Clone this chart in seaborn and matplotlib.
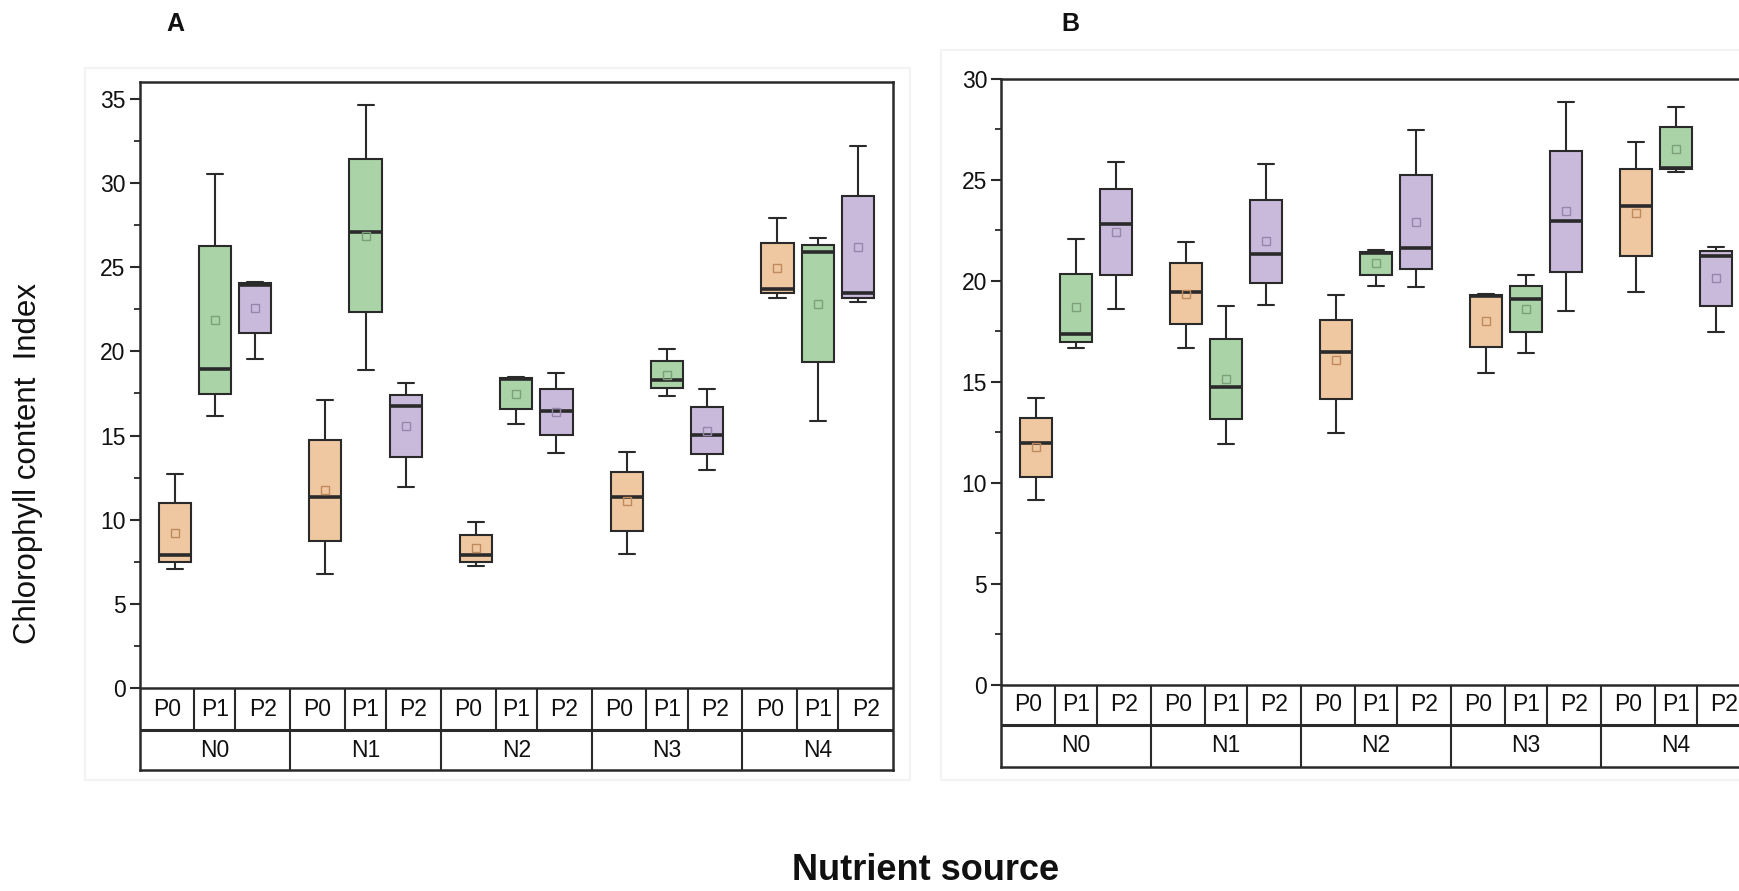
import numpy as np
import pandas as pd
import matplotlib
matplotlib.use("Agg")
import matplotlib.pyplot as plt
from matplotlib.patches import Rectangle
from matplotlib.ticker import FixedLocator
import seaborn as sns

# Nitrogen levels (groups) and phosphorus levels (boxes inside each group)
n_levels = ["N0", "N1", "N2", "N3", "N4"]
p_levels = ["P0", "P1", "P2"]

# Five replicate readings per treatment, one row per nitrogen level (N0..N4)
# Panel A
a_p0 = [[7.07, 7.47, 7.90, 11.01, 12.71],
        [6.77, 8.75, 11.33, 14.73, 17.11],
        [7.27, 7.50, 7.90, 9.09, 9.84],
        [7.94, 9.33, 11.37, 12.85, 14.00],
        [23.15, 23.45, 23.70, 26.46, 27.90]]
a_p1 = [[16.17, 17.47, 18.97, 26.28, 30.53],
        [18.89, 22.36, 27.07, 31.42, 34.65],
        [15.66, 16.55, 18.35, 18.40, 18.45],
        [17.37, 17.80, 18.30, 19.43, 20.12],
        [15.88, 19.35, 25.88, 26.32, 26.71]]
a_p2 = [[19.56, 21.07, 23.95, 24.05, 24.15],
        [11.92, 13.70, 16.75, 17.41, 18.13],
        [13.94, 15.03, 16.46, 17.74, 18.69],
        [12.95, 13.90, 15.03, 16.67, 17.76],
        [22.95, 23.19, 23.49, 29.23, 32.22]]

# Panel B
b_p0 = [[9.16, 10.31, 12.00, 13.23, 14.19],
        [16.70, 17.85, 19.47, 20.87, 21.91],
        [12.49, 14.14, 16.50, 18.07, 19.31],
        [15.43, 16.75, 19.28, 19.31, 19.36],
        [19.47, 21.24, 23.71, 25.53, 26.90]]
b_p1 = [[16.70, 17.00, 17.36, 20.35, 22.06],
        [11.91, 13.15, 14.74, 17.11, 18.76],
        [19.75, 20.30, 21.40, 21.45, 21.53],
        [16.42, 17.46, 19.11, 19.75, 20.30],
        [25.41, 25.54, 25.61, 27.61, 28.60]]
b_p2 = [[18.60, 20.30, 22.82, 24.55, 25.91],
        [18.81, 19.92, 21.32, 24.01, 25.79],
        [19.72, 20.58, 21.62, 25.25, 27.48],
        [18.51, 20.43, 22.99, 26.45, 28.88],
        [17.46, 18.78, 21.25, 21.50, 21.70]]

a_yticks = [0, 5, 10, 15, 20, 25, 30, 35]
b_yticks = [0, 5, 10, 15, 20, 25, 30]

y_label = "Chlorophyll content  Index"
x_label = "Nutrient source"
panel_titles = ["A", "B"]

fill_colors = ["#FCC794", "#A3DBA0", "#C8B4E2"]
mean_colors = ["#C08A5C", "#7E9F7B", "#9686AC"]
edge = "#2a2a2a"
text_color = "#111111"

sns.set_style("white")
plt.rcParams["font.family"] = ["Liberation Sans", "DejaVu Sans"]


def long_frame(p0, p1, p2):
    rows = []
    for p_name, block in zip(p_levels, [p0, p1, p2]):
        for n_name, reps in zip(n_levels, block):
            for v in reps:
                rows.append({"N": n_name, "P": p_name, "value": v})
    return pd.DataFrame(rows)


def draw_panel(ax, df, y_bottom, y_top, p_row, yticks):
    sns.boxplot(data=df, x="N", y="value", hue="P", order=n_levels,
                hue_order=p_levels, palette=fill_colors, width=0.8, gap=0.2,
                whis=(0, 100), linecolor=edge, linewidth=1.5,
                showmeans=True,
                meanprops=dict(marker="s", markersize=5.5,
                               markerfacecolor="none", markeredgewidth=1.0),
                medianprops=dict(linewidth=2.6, color=edge),
                legend=False, ax=ax)

    # tint each mean marker after its box colour
    slot = 0.8 / len(p_levels)
    for line in ax.lines:
        if line.get_marker() == "s":
            x = np.asarray(line.get_xdata(), dtype=float)[0]
            k = int(round((x - round(x)) / slot)) + 1
            line.set_markeredgecolor(mean_colors[k])

    ax.set_xlim(-0.5, len(n_levels) - 0.5)
    ax.set_ylim(y_bottom, y_top)
    ax.set_xlabel("")
    ax.set_ylabel("")
    ax.tick_params(axis="x", which="both", bottom=False, labelbottom=False)
    ax.yaxis.set_major_locator(FixedLocator(yticks))
    ax.yaxis.set_minor_locator(FixedLocator([t + 2.5 for t in yticks[:-1]]))
    ax.tick_params(axis="y", which="major", left=True, direction="out",
                   length=7, width=1.5, color=edge, labelsize=16.5, pad=3,
                   labelcolor=text_color)
    ax.tick_params(axis="y", which="minor", left=True, direction="out",
                   length=4, width=1.3, color=edge)
    for sp in ax.spines.values():
        sp.set_visible(True)
        sp.set_color(edge)
        sp.set_linewidth(1.8)

    # category table under the plot
    ax.axhline(0, color=edge, lw=1.8)
    ax.axhline(p_row, color=edge, lw=2.2)
    for i in range(len(n_levels) - 1):
        ax.vlines(i + 0.5, y_bottom, 0, color=edge, lw=1.5)
    cut = 0.137
    for i, n_name in enumerate(n_levels):
        ax.vlines([i - cut, i + cut], p_row, 0, color=edge, lw=1.5)
        centers = [i - (0.5 + cut) / 2, i, i + (0.5 + cut) / 2]
        for c, p_name in zip(centers, p_levels):
            ax.text(c, p_row / 2, p_name, ha="center", va="center",
                    fontsize=16.5, color=text_color)
        ax.text(i, (p_row + y_bottom) / 2, n_name, ha="center",
                va="center", fontsize=16.5, color=text_color)


W, H = 1739, 891
fig = plt.figure(figsize=(W / 100, H / 100), dpi=100)

# faint page frames behind each panel
for x0, y0, x1, y1 in [(85, 68, 910, 780), (941, 50, 1760, 780)]:
    fig.add_artist(Rectangle((x0 / W, 1 - y1 / H), (x1 - x0) / W,
                             (y1 - y0) / H, transform=fig.transFigure,
                             fill=False, ec="#f3f3f3", lw=1.5, zorder=0))

ax_a = fig.add_axes([139.5 / W, 1 - 770 / H, (893 - 139.5) / W, (770 - 81.7) / H])
ax_b = fig.add_axes([1001 / W, 1 - 767 / H, 750 / W, (767 - 79) / H])

draw_panel(ax_a, long_frame(a_p0, a_p1, a_p2), -4.87, 36.02, -2.50, a_yticks)
draw_panel(ax_b, long_frame(b_p0, b_p1, b_p2), -4.06, 30.0, -1.98, b_yticks)

fig.text(175 / W, 1 - 24 / H, panel_titles[0], fontsize=18, fontweight="bold",
         ha="center", va="center", color=text_color)
fig.text(1070 / W, 1 - 24 / H, panel_titles[1], fontsize=18, fontweight="bold",
         ha="center", va="center", color=text_color)
fig.text(28 / W, 1 - 464 / H, y_label, rotation=90, fontsize=22.5,
         ha="center", va="center", color=text_color)
fig.text(926 / W, 1 - 871 / H, x_label, fontsize=26, fontweight="bold",
         ha="center", va="center", color=text_color)

fig.savefig("out.png", dpi=100)
